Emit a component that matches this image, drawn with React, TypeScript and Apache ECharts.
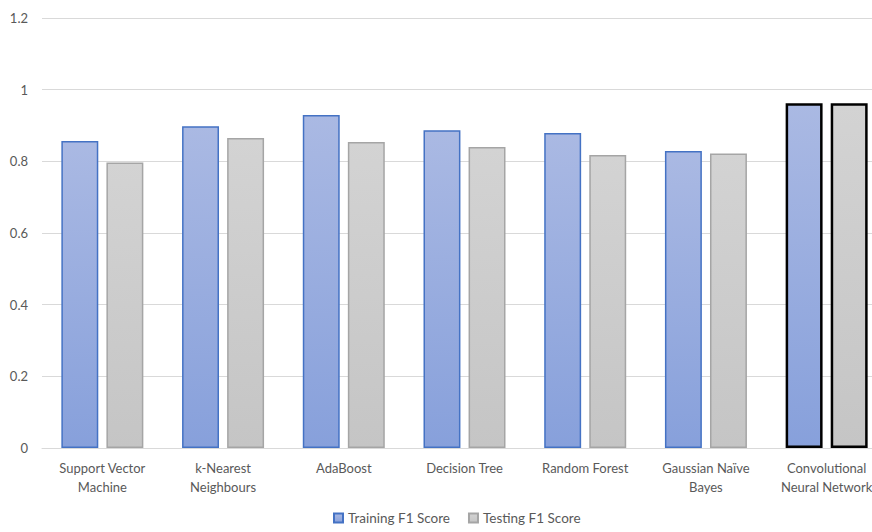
import React, { useEffect, useRef } from "react";
import * as echarts from "echarts";

const categories = [
  "Support Vector\nMachine",
  "k-Nearest\nNeighbours",
  "AdaBoost",
  "Decision Tree",
  "Random Forest",
  "Gaussian Naïve\nBayes",
  "Convolutional\nNeural Network",
];
const trainingF1 = [0.857, 0.898, 0.929, 0.887, 0.879, 0.829, 0.962];
const testingF1 = [0.797, 0.865, 0.854, 0.84, 0.818, 0.822, 0.962];
const highlighted = [6];

const FONT = "Lato, 'Liberation Sans', sans-serif";

export default function App() {
  const ref = useRef<HTMLDivElement>(null);
  useEffect(() => {
    if (!ref.current) return;
    const chart = echarts.init(ref.current, undefined, { renderer: "svg" });
    const blue = new echarts.graphic.LinearGradient(0, 0, 0, 1, [
      { offset: 0, color: "#aab9e3" },
      { offset: 1, color: "#87a0db" },
    ]);
    const grey = new echarts.graphic.LinearGradient(0, 0, 0, 1, [
      { offset: 0, color: "#d3d3d3" },
      { offset: 1, color: "#c5c5c5" },
    ]);
    const mk = (vals: number[]) =>
      vals.map((v, i) =>
        highlighted.includes(i)
          ? { value: v, itemStyle: { borderColor: "#000000", borderWidth: 2.5 } }
          : v
      );
    chart.setOption({
      animation: false,
      textStyle: { fontFamily: FONT },
      grid: { left: 42, right: 0, top: 18, bottom: 84, containLabel: false },
      legend: {
        bottom: 2,
        left: 328,
        itemWidth: 9,
        itemHeight: 9,
        itemGap: 18,
        icon: "rect",
        textStyle: { color: "#595959", fontSize: 13.5, fontFamily: FONT },
        data: ["Training F1 Score", "Testing F1 Score"],
      },
      xAxis: {
        type: "category",
        data: categories,
        axisLine: { lineStyle: { color: "#d9d9d9", width: 1 } },
        axisTick: { show: false },
        axisLabel: {
          color: "#595959",
          fontSize: 13,
          lineHeight: 19,
          margin: 10,
          interval: 0,
          fontFamily: FONT,
        },
      },
      yAxis: {
        type: "value",
        min: 0,
        max: 1.2,
        interval: 0.2,
        axisLine: { show: false },
        axisTick: { show: false },
        splitLine: { lineStyle: { color: "#d9d9d9", width: 1 } },
        axisLabel: {
          color: "#595959",
          fontSize: 13,
          margin: 14,
          fontFamily: FONT,
          formatter: (v: number) => String(Math.round(v * 10) / 10),
        },
      },
      series: [
        {
          name: "Training F1 Score",
          type: "bar",
          data: mk(trainingF1),
          barWidth: "30.6%",
          barGap: "22%",
          itemStyle: { color: blue, borderColor: "#4472c4", borderWidth: 1.5 },
        },
        {
          name: "Testing F1 Score",
          type: "bar",
          data: mk(testingF1),
          barWidth: "30.6%",
          itemStyle: { color: grey, borderColor: "#a5a5a5", borderWidth: 1.5 },
        },
      ],
    });
    return () => chart.dispose();
  }, []);
  return (
    <div
      ref={ref}
      style={{ position: "fixed", left: 0, top: 0, width: 887, height: 532, background: "#ffffff" }}
    />
  );
}
